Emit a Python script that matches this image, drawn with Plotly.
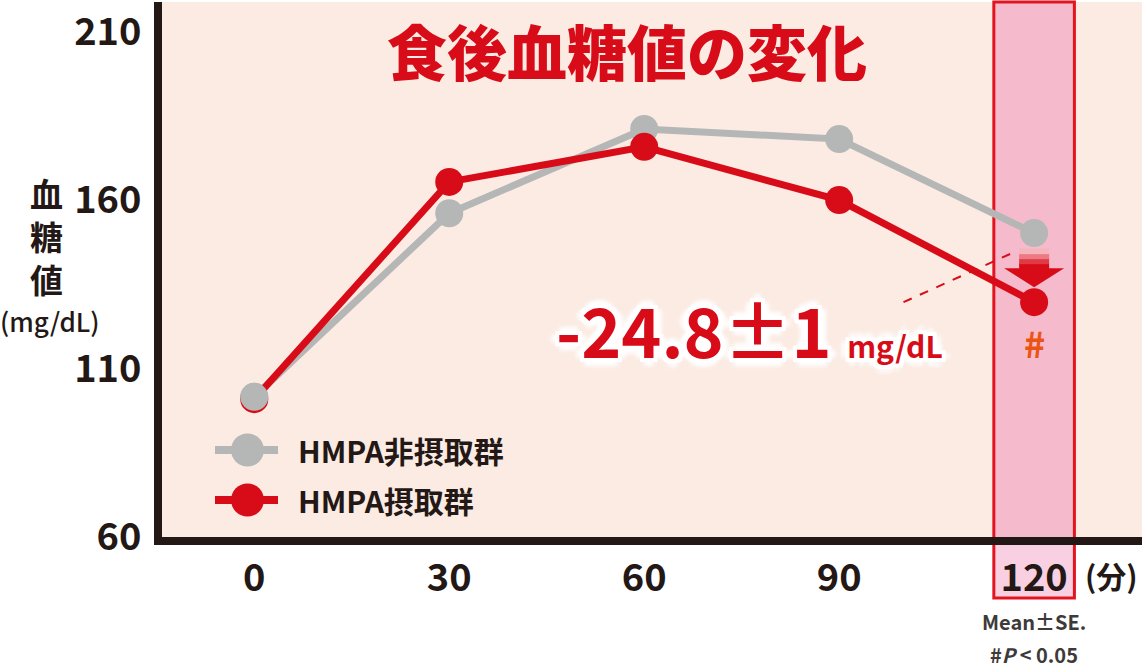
import plotly.graph_objects as go

# data
times = [0, 30, 60, 90, 120]
non_intake = [101.6, 156.1, 181.1, 178.1, 150.2]   # HMPA非摂取群
intake = [100.9, 165.4, 175.8, 160.0, 129.7]       # HMPA摂取群
y_ticks = [60, 110, 160, 210]
x_ticks = [0, 30, 60, 90, 120]
legend_names = ["HMPA非摂取群", "HMPA摂取群"]
diff_text = "-24.8±1"
diff_unit = "mg/dL"

FONT = "Noto Sans CJK JP"
INK = "#231815"
GRAY = "#B5B6B6"
RED = "#D80C18"
ORANGE = "#EA5514"

# plot area in pixels: left 162, right 1144, top 2, bottom 537
L, R, T, B = 162, 2, 2, 537
W, H = 1144, 668


def px(x):
    return (x - L) / (W - L - R)


def py(y):
    return (B - y) / (B - T)


data = []
data.append(go.Scatter(x=times, y=non_intake, mode='lines+markers',
                       line=dict(color=GRAY, width=7),
                       marker=dict(size=28, color=GRAY)))
data.append(go.Scatter(x=times, y=intake, mode='lines+markers',
                       line=dict(color=RED, width=7),
                       marker=dict(size=28, color=RED)))
# gray start point sits on top of the red one
data.append(go.Scatter(x=times[:1], y=non_intake[:1], mode='markers',
                       marker=dict(size=28, color=GRAY)))

shapes = []
# highlighted 120-min column
shapes.append(dict(type='rect', xref='x', yref='paper', x0=120 - 6.2, x1=120 + 6.2,
                   y0=0, y1=1, fillcolor='#F5BACB', line_width=0, layer='below'))
shapes.append(dict(type='rect', xref='x', yref='paper', x0=120 - 6.2, x1=120 + 6.2,
                   y0=py(598), y1=0, fillcolor='#F9D0E2', line_width=0, layer='below'))
shapes.append(dict(type='rect', xref='x', yref='paper', x0=120 - 6.2, x1=120 + 6.2,
                   y0=py(598), y1=1, line=dict(color='#E3141E', width=3), layer='below'))

# dashed leader line from the label to the drop
shapes.append(dict(type='line', xref='x', yref='y', x0=99.9, y0=129.7, x1=116.3, y1=144.0,
                   line=dict(color=RED, width=2, dash='dash')))

# down arrow (pixel offsets from the last red point)
band_cols = ['#D80C18', '#E03A44', '#EB7A82', '#F4B6BC']
for i, c in enumerate(band_cols):
    y0 = 33 + i * 5
    shapes.append(dict(type='path', xref='x', yref='y', xsizemode='pixel', ysizemode='pixel',
                       xanchor=times[-1], yanchor=intake[-1],
                       path=f'M-15,{y0} L15,{y0} L15,{y0 + 6} L-15,{y0 + 6} Z',
                       fillcolor=c, line_width=0))
shapes.append(dict(type='path', xref='x', yref='y', xsizemode='pixel', ysizemode='pixel',
                   xanchor=times[-1], yanchor=intake[-1],
                   path='M-30,34 L30,34 L0,15 Z', fillcolor=RED, line_width=0))

# legend drawn by hand
annotations = []
for name, col, ly in zip(legend_names, [GRAY, RED], [450, 500]):
    shapes.append(dict(type='line', xref='paper', yref='paper', x0=px(215), x1=px(278),
                       y0=py(ly), y1=py(ly), line=dict(color=col, width=8)))
    shapes.append(dict(type='circle', xref='paper', yref='paper', x0=px(231), x1=px(264),
                       y0=py(ly + 16.5), y1=py(ly - 16.5), fillcolor=col, line_width=0))
    annotations.append(dict(xref='paper', yref='paper', x=px(296), y=py(ly), xanchor='left',
                            yanchor='middle', text=name, showarrow=False,
                            font=dict(family=FONT, size=30, color=INK, weight=700)))

# title
annotations.append(dict(xref='paper', yref='paper', x=px(627), y=py(50), text='食後血糖値の変化',
                        showarrow=False, xanchor='center', yanchor='middle',
                        font=dict(family=FONT, size=60, color=RED, weight=900)))
# y axis title (stacked vertically)
annotations.append(dict(xref='paper', yref='paper', x=px(46), y=py(236), text='血<br>糖<br>値',
                        showarrow=False, xanchor='center', yanchor='middle',
                        font=dict(family=FONT, size=33, color=INK, weight=700)))
annotations.append(dict(xref='paper', yref='paper', x=px(50), y=py(320), text='(mg/dL)',
                        showarrow=False, xanchor='center', yanchor='middle',
                        font=dict(family=FONT, size=26, color=INK, weight=500)))
# x unit
annotations.append(dict(xref='paper', yref='paper', x=px(1111), y=py(575), text='(分)',
                        showarrow=False, xanchor='center', yanchor='middle',
                        font=dict(family=FONT, size=30, color=INK, weight=700)))
# footnotes
annotations.append(dict(xref='x', yref='paper', x=times[-1], y=py(621), text='Mean±SE.',
                        showarrow=False, xanchor='center', yanchor='middle',
                        font=dict(family=FONT, size=20, color='#3E3A39', weight=700)))
annotations.append(dict(xref='x', yref='paper', x=times[-1], y=py(654), text='#<i>P</i> &lt; 0.05',
                        showarrow=False, xanchor='center', yanchor='middle',
                        font=dict(family=FONT, size=20, color='#3E3A39', weight=700)))
# difference label
halo = ('0 0 8px white, 4px 0 0 white, -4px 0 0 white, 0 4px 0 white, 0 -4px 0 white, '
        '4px 4px 0 white, -4px -4px 0 white, 4px -4px 0 white, -4px 4px 0 white, '
        '8px 0 4px white, -8px 0 4px white, 0 8px 4px white, 0 -8px 4px white')
annotations.append(dict(xref='x', yref='y', x=46.1, y=122.0, xanchor='left', yanchor='middle',
                        text=f"{diff_text} <span style='font-size:30px'>{diff_unit}</span>",
                        showarrow=False,
                        font=dict(family=FONT, size=68, color=RED, weight=700, shadow=halo)))
# significance mark
annotations.append(dict(xref='x', yref='y', x=times[-1], y=intake[-1], yshift=-40, text='#',
                        showarrow=False, font=dict(family=FONT, size=36, color=ORANGE, weight=700)))

layout = {
    'width': W, 'height': H,
    'margin': dict(l=L, r=R, t=T, b=H - B, pad=0),
    'paper_bgcolor': 'white',
    'plot_bgcolor': '#FBEBE3',
    'showlegend': False,
    'hovermode': False,
    'xaxis': dict(range=[-14.2, 136.6], tickvals=x_ticks, showgrid=False, zeroline=False,
                  showline=True, linecolor=INK, linewidth=8, ticks='', ticklabelstandoff=0,
                  layer='above traces',
                  tickfont=dict(family=FONT, size=38, color=INK, weight=700)),
    'yaxis': dict(range=[60, 218.8], tickvals=y_ticks, showgrid=False, zeroline=False,
                  showline=True, linecolor=INK, linewidth=8, ticks='', ticklabelstandoff=5,
                  tickfont=dict(family=FONT, size=38, color=INK, weight=700)),
    'shapes': shapes,
    'annotations': annotations,
}

fig = go.Figure(data=data, layout=layout)
fig.write_html("out.html", config={'displayModeBar': False},
               post_script="document.body.style.margin='0px';")
